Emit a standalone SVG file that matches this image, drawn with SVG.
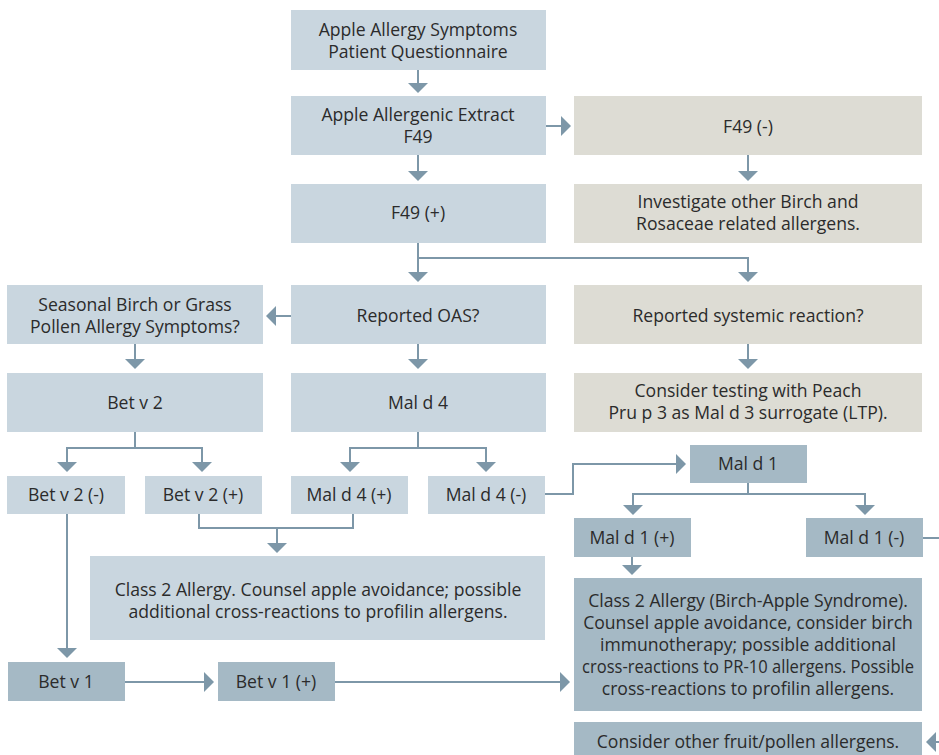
<svg xmlns="http://www.w3.org/2000/svg" width="939" height="755" viewBox="0 0 939 755">
<defs>
<style>
.lt{fill:#c9d6df}
.bg{fill:#dddcd4}
.dk{fill:#a5b9c5}
text{font-family:"Open Sans","Noto Sans","Liberation Sans",sans-serif;font-size:17.6px;fill:#2b2b2b;text-anchor:middle}
.c{fill:none;stroke:#7d97a8;stroke-width:2}
</style>
<marker id="ah" markerUnits="userSpaceOnUse" viewBox="0 0 10 20" markerWidth="10" markerHeight="20" refX="5" refY="10" orient="auto">
<path d="M0,0 L10,10 L0,20 z" fill="#7d97a8"/>
</marker>
</defs>
<rect width="939" height="755" fill="#ffffff"/>
<g id="connectors">
<path class="c" d="M418,70 V88" marker-end="url(#ah)"/>
<path class="c" d="M546,126 H566" marker-end="url(#ah)"/>
<path class="c" d="M418,155 V176" marker-end="url(#ah)"/>
<path class="c" d="M748,155 V176" marker-end="url(#ah)"/>
<path class="c" d="M418,243 V258 H748 V277" marker-end="url(#ah)"/>
<path class="c" d="M418,258 V277" marker-end="url(#ah)"/>
<path class="c" d="M291,316 H271" marker-end="url(#ah)"/>
<path class="c" d="M135,344 V364" marker-end="url(#ah)"/>
<path class="c" d="M418,344 V364" marker-end="url(#ah)"/>
<path class="c" d="M748,344 V364" marker-end="url(#ah)"/>
<path class="c" d="M135,432 V448 H67 V467" marker-end="url(#ah)"/>
<path class="c" d="M135,448 H202 V467" marker-end="url(#ah)"/>
<path class="c" d="M418,432 V448 H350 V467" marker-end="url(#ah)"/>
<path class="c" d="M418,448 H486 V467" marker-end="url(#ah)"/>
<path class="c" d="M199,514 V528 H353 V514"/>
<path class="c" d="M277,528 V548" marker-end="url(#ah)"/>
<path class="c" d="M545,494 H573 V464 H681" marker-end="url(#ah)"/>
<path class="c" d="M748,483 V494 H633 V510" marker-end="url(#ah)"/>
<path class="c" d="M748,494 H865 V510" marker-end="url(#ah)"/>
<path class="c" d="M923,538 H945"/>
<path class="c" d="M632,557 V570" marker-end="url(#ah)"/>
<path class="c" d="M67,514 V653" marker-end="url(#ah)"/>
<path class="c" d="M125,682 H209" marker-end="url(#ah)"/>
<path class="c" d="M335,682 H565" marker-end="url(#ah)"/>
<path class="c" d="M950,742 H931" marker-end="url(#ah)"/>
</g>
<g id="n1"><rect class="lt" x="291" y="10" width="255" height="60"/><text x="418" y="36">Apple Allergy Symptoms</text><text x="418" y="58">Patient Questionnaire</text></g>
<g id="n2"><rect class="lt" x="291" y="96" width="255" height="59"/><text x="418" y="121">Apple Allergenic Extract</text><text x="418" y="143">F49</text></g>
<g id="n3"><rect class="bg" x="574" y="96" width="348" height="59"/><text x="748" y="133">F49 (-)</text></g>
<g id="n4"><rect class="lt" x="291" y="184" width="255" height="59"/><text x="418" y="219">F49 (+)</text></g>
<g id="n5"><rect class="bg" x="574" y="184" width="348" height="59"/><text x="748" y="208">Investigate other Birch and</text><text x="748" y="230">Rosaceae related allergens.</text></g>
<g id="n6"><rect class="lt" x="7" y="285" width="256" height="59"/><text x="135" y="311">Seasonal Birch or Grass</text><text x="135" y="333">Pollen Allergy Symptoms?</text></g>
<g id="n7"><rect class="lt" x="291" y="285" width="255" height="59"/><text x="418" y="322">Reported OAS?</text></g>
<g id="n8"><rect class="bg" x="574" y="285" width="348" height="59"/><text x="748" y="322">Reported systemic reaction?</text></g>
<g id="n9"><rect class="lt" x="7" y="373" width="256" height="59"/><text x="135" y="409">Bet v 2</text></g>
<g id="n10"><rect class="lt" x="291" y="373" width="255" height="59"/><text x="418" y="409">Mal d 4</text></g>
<g id="n11"><rect class="bg" x="574" y="373" width="348" height="59"/><text x="748" y="397">Consider testing with Peach</text><text x="748" y="419">Pru p 3 as Mal d 3 surrogate (LTP).</text></g>
<g id="n12"><rect class="lt" x="7" y="476" width="118" height="38"/><text x="66" y="501">Bet v 2 (-)</text></g>
<g id="n13"><rect class="lt" x="145" y="476" width="117" height="38"/><text x="203" y="501">Bet v 2 (+)</text></g>
<g id="n14"><rect class="lt" x="291" y="476" width="117" height="38"/><text x="349" y="501">Mal d 4 (+)</text></g>
<g id="n15"><rect class="lt" x="428" y="476" width="117" height="38"/><text x="486" y="501">Mal d 4 (-)</text></g>
<g id="n16"><rect class="lt" x="90" y="556" width="455" height="84"/><text x="318" y="596">Class 2 Allergy. Counsel apple avoidance; possible</text><text x="318" y="618">additional cross-reactions to profilin allergens.</text></g>
<g id="n17"><rect class="dk" x="690" y="445" width="117" height="38"/><text x="748" y="470">Mal d 1</text></g>
<g id="n18"><rect class="dk" x="574" y="518" width="117" height="39"/><text x="632" y="544">Mal d 1 (+)</text></g>
<g id="n19"><rect class="dk" x="806" y="518" width="117" height="39"/><text x="864" y="544">Mal d 1 (-)</text></g>
<g id="n20"><rect class="dk" x="574" y="578" width="348" height="133"/><text x="748" y="607">Class 2 Allergy (Birch-Apple Syndrome).</text><text x="748" y="629">Counsel apple avoidance, consider birch</text><text x="748" y="651">immunotherapy; possible additional</text><text x="748" y="673" textLength="332" lengthAdjust="spacingAndGlyphs">cross-reactions to PR-10 allergens. Possible</text><text x="748" y="695">cross-reactions to profilin allergens.</text></g>
<g id="n21"><rect class="dk" x="8" y="662" width="117" height="39"/><text x="66" y="688">Bet v 1</text></g>
<g id="n22"><rect class="dk" x="218" y="662" width="117" height="39"/><text x="276" y="688">Bet v 1 (+)</text></g>
<g id="n23"><rect class="dk" x="574" y="722" width="348" height="40"/><text x="748" y="748">Consider other fruit/pollen allergens.</text></g>
</svg>
